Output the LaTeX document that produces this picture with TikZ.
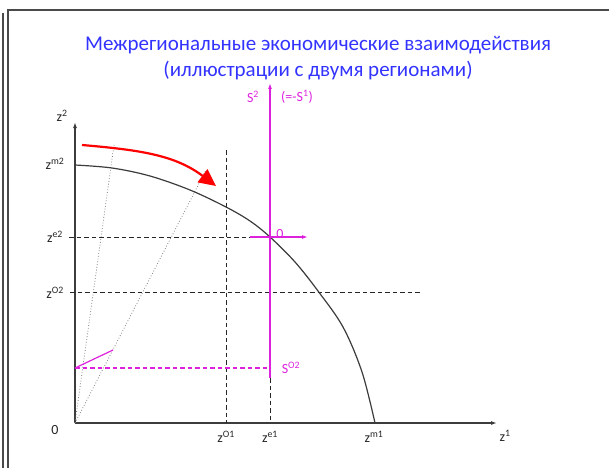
\documentclass[tikz,border=0pt]{standalone}
\usepackage{fontspec}
\setmainfont{Carlito}
\usetikzlibrary{arrows.meta}
\definecolor{titleblue}{HTML}{3333FF}
\definecolor{mag}{HTML}{DD22DD}
\definecolor{framegray}{HTML}{4A4A4A}
\definecolor{curvegray}{HTML}{3C3C3C}
\tikzset{
  lbl/.style={font=\fontsize{14}{16}\selectfont, text=black!85, inner sep=0pt},
  mlbl/.style={font=\fontsize{14}{16}\selectfont, text=mag, inner sep=0pt},
  axis/.style={draw=curvegray, line width=1.2pt, -{Latex[length=6pt,width=4pt]}},
  guide/.style={draw=black!85, dashed, dash pattern=on 4.5pt off 3pt, line width=1pt},
  ray/.style={draw=gray, dotted, line width=0.8pt},
  magaxis/.style={draw=mag, line width=1.2pt, -{Latex[length=6pt,width=4pt]}},
  frameline/.style={draw=framegray, line width=1.6pt}
}
\begin{document}
\begin{tikzpicture}[x=1pt,y=-1pt]
\useasboundingbox (0,0) rectangle (609,468);
% frame
\coordinate (fa) at (609,10);
\coordinate (fb) at (8,10);
\coordinate (fc) at (8,468);
\coordinate (fd) at (3,13);
\coordinate (fe) at (3,468);
\draw[frameline] (fa) -- (fb) -- (fc);
\draw[frameline] (fd) -- (fe);
% title
\node[font=\fontsize{21}{26}\selectfont, text=titleblue, align=center] (title) at (318,58)
  {Межрегиональные экономические взаимодействия\\(иллюстрации с двумя регионами)};
% axes
\coordinate (O) at (75,423);
\coordinate (ytop) at (75,122);
\coordinate (xend) at (497,423);
\draw[axis] (O) -- (ytop);
\draw[axis] (O) -- (xend);
% guides
\coordinate (e2l) at (69,237);
\coordinate (e2r) at (250,237);
\coordinate (o2l) at (70,292);
\coordinate (o2r) at (420,292);
\coordinate (o1t) at (226,150);
\coordinate (o1b) at (226,423);
\coordinate (e1t) at (270,378);
\coordinate (e1b) at (270,423);
\draw[guide] (e2l) -- (e2r);
\draw[guide] (o2l) -- (o2r);
\draw[guide] (o1t) -- (o1b);
\draw[guide] (e1t) -- (e1b);
% rays
\coordinate (r1) at (114,145);
\coordinate (r2) at (206,170);
\draw[ray] (O) -- (r1);
\draw[ray] (O) -- (r2);
% frontier
\coordinate (m2) at (75,165);
\coordinate (m1) at (375,423);
\draw[curvegray, line width=1.2pt] plot[smooth, tension=0.55] coordinates
  {(75,165) (112,168) (150,176) (190,190) (226,207) (250,221) (270,237) (295,262) (318,291) (343,327) (362,372) (375,423)};
% red arrow
\coordinate (ra) at (82,145);
\coordinate (rb) at (216,186);
\draw[red, line width=2.2pt, -{Triangle[length=17pt,width=16pt]}] (ra) .. controls (140,150) and (175,155) .. (rb);
% magenta
\coordinate (sbot) at (270,378);
\coordinate (stop) at (270,83);
\coordinate (hl) at (250,237);
\coordinate (hr) at (308,237);
\draw[magaxis] (sbot) -- (stop);
\draw[magaxis] (hl) -- (hr);
\coordinate (s0l) at (75,368);
\coordinate (s0r) at (270,368);
\coordinate (s0t) at (113,350);
\draw[mag, dashed, dash pattern=on 4.5pt off 3pt, line width=1.2pt] (s0l) -- (s0r);
\draw[mag, line width=1.2pt] (s0l) -- (s0t);
% labels
\node[lbl] (lz2) at (62,116) {z\textsuperscript{2}};
\node[lbl] (lzm2) at (55,164) {z\textsuperscript{m2}};
\node[lbl] (lze2) at (55,237) {z\textsuperscript{e2}};
\node[lbl] (lzo2) at (55,293) {z\textsuperscript{O2}};
\node[lbl] (l0) at (55,430) {0};
\node[lbl] (lzo1) at (226,437) {z\textsuperscript{O1}};
\node[lbl] (lze1) at (270,437) {z\textsuperscript{e1}};
\node[lbl] (lzm1) at (374,437) {z\textsuperscript{m1}};
\node[lbl] (lz1) at (505,436) {z\textsuperscript{1}};
\node[mlbl] (ls2) at (253,97) {S\textsuperscript{2}};
\node[mlbl] (ls1) at (297,97) {(=-S\textsuperscript{1})};
\node[mlbl] (lzero) at (280,234) {0};
\node[mlbl] (lso2) at (291,368) {S\textsuperscript{O2}};
\end{tikzpicture}
\end{document}
